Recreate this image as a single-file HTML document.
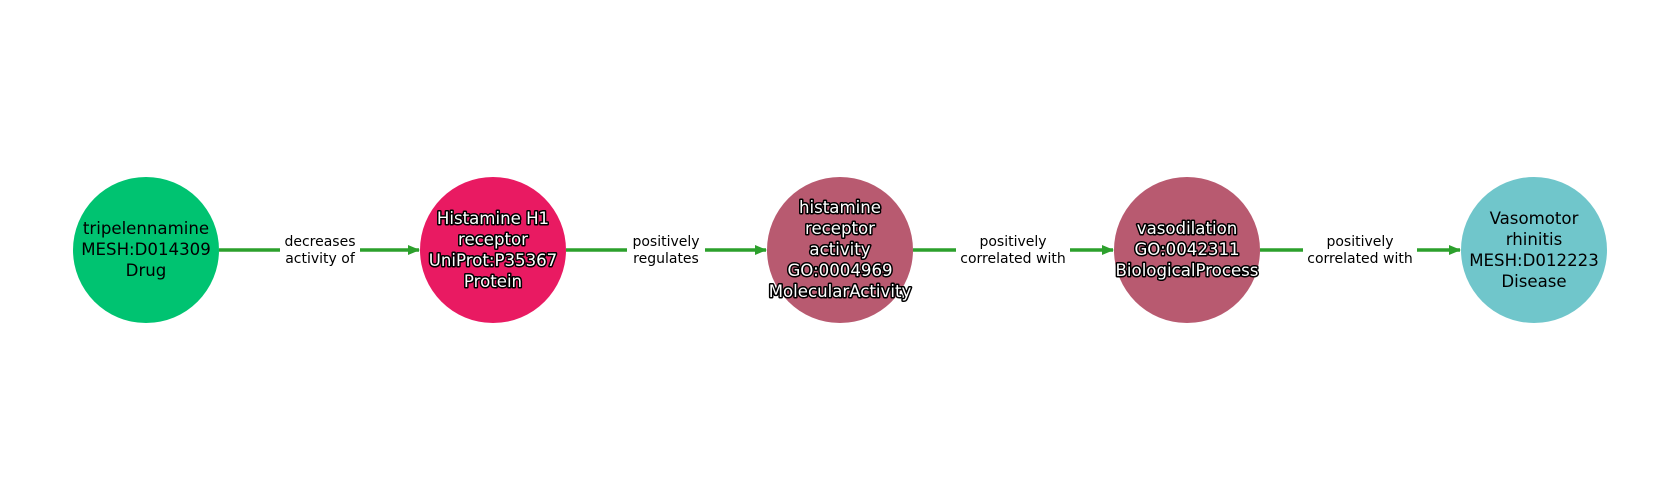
<!DOCTYPE html>
<html><head><meta charset="utf-8"><style>
html,body{margin:0;padding:0;background:#fff;}
svg{display:block;}
text{font-family:"DejaVu Sans","Liberation Sans",sans-serif;}
.n{font-size:16.6px;text-anchor:middle;}
.w{fill:#fff;stroke:#000;stroke-width:3px;paint-order:stroke;stroke-linejoin:round;}
.e{font-size:14px;text-anchor:middle;fill:#000;}
</style></head><body>
<svg width="1680" height="500" viewBox="0 0 1680 500" xmlns="http://www.w3.org/2000/svg">
<defs><marker id="a" markerWidth="12" markerHeight="12" refX="11" refY="6" orient="auto" markerUnits="userSpaceOnUse"><path d="M0,1 L12,6 L0,11 Z" fill="#2ca02c"/></marker></defs>
<g stroke="#2ca02c" stroke-width="3.5" fill="none">
<line x1="219" y1="250" x2="419" y2="250" marker-end="url(#a)"/>
<line x1="566" y1="250" x2="766" y2="250" marker-end="url(#a)"/>
<line x1="913" y1="250" x2="1113" y2="250" marker-end="url(#a)"/>
<line x1="1260" y1="250" x2="1460" y2="250" marker-end="url(#a)"/>
</g>
<g fill="#fff">
<rect x="280" y="232" width="80" height="36"/>
<rect x="627" y="232" width="78" height="36"/>
<rect x="956" y="232" width="114" height="36"/>
<rect x="1303" y="232" width="114" height="36"/>
</g>
<text class="e" x="320" y="246">decreases</text><text class="e" x="320" y="263">activity of</text>
<text class="e" x="666" y="246">positively</text><text class="e" x="666" y="263">regulates</text>
<text class="e" x="1013" y="246">positively</text><text class="e" x="1013" y="263">correlated with</text>
<text class="e" x="1360" y="246">positively</text><text class="e" x="1360" y="263">correlated with</text>
<circle cx="146" cy="250" r="73" fill="#00c371"/>
<circle cx="493" cy="250" r="73" fill="#e91a62"/>
<circle cx="840" cy="250" r="73" fill="#b85a70"/>
<circle cx="1187" cy="250" r="73" fill="#b85a70"/>
<circle cx="1534" cy="250" r="73" fill="#70c6cb"/>
<text class="n" x="146" y="234">tripelennamine</text><text class="n" x="146" y="255">MESH:D014309</text><text class="n" x="146" y="276">Drug</text>
<text class="n w" x="493" y="224">Histamine H1</text><text class="n w" x="493" y="245">receptor</text><text class="n w" x="493" y="266">UniProt:P35367</text><text class="n w" x="493" y="287">Protein</text>
<text class="n w" x="840" y="213">histamine</text><text class="n w" x="840" y="234">receptor</text><text class="n w" x="840" y="255">activity</text><text class="n w" x="840" y="276">GO:0004969</text><text class="n w" x="840" y="297">MolecularActivity</text>
<text class="n w" x="1187" y="234">vasodilation</text><text class="n w" x="1187" y="255">GO:0042311</text><text class="n w" x="1187" y="276">BiologicalProcess</text>
<text class="n" x="1534" y="224">Vasomotor</text><text class="n" x="1534" y="245">rhinitis</text><text class="n" x="1534" y="266">MESH:D012223</text><text class="n" x="1534" y="287">Disease</text>
</svg>
</body></html>
